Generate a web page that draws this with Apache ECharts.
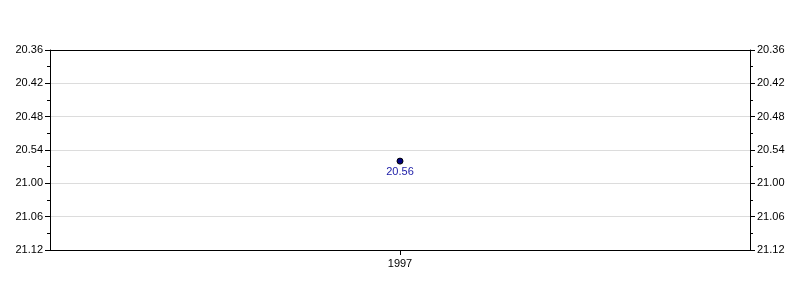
<!DOCTYPE html>
<html><head><meta charset="utf-8">
<script src="https://cdn.jsdelivr.net/npm/echarts@6/dist/echarts.min.js"></script>
<style>html,body{margin:0;padding:0;background:#fff}#c{width:800px;height:300px}</style>
</head><body><div id="c"></div>
<script>
var years = ['1997'];
var times = ['20.56']; // minutes.seconds
var yMinLabel = '20.36';
var yMaxLabel = '21.12';
var yStepSeconds = 6;

function toSec(s){ var p = s.split('.'); return parseInt(p[0],10)*60 + parseInt(p[1],10); }
function fmt(v){ var m = Math.floor(v/60), s = Math.round(v - m*60); return m + '.' + (s<10?'0':'') + s; }

var values = times.map(toSec);
var font = 'Liberation Sans, Arial, sans-serif';

function yAxis(pos){
  return {
    type:'value', position:pos, inverse:true,
    min:toSec(yMinLabel), max:toSec(yMaxLabel), interval:yStepSeconds,
    axisLine:{show:true, lineStyle:{color:'#000', width:1}},
    axisTick:{show:true, length:5, lineStyle:{color:'#000'}},
    minorTick:{show:true, splitNumber:2, length:3, lineStyle:{color:'#000'}},
    splitLine:{show: pos==='left', showMinLine:false, showMaxLine:false, lineStyle:{color:'#dcdcdc', width:1}},
    axisLabel:{color:'#000', fontSize:11, fontFamily:font, margin:7, formatter:fmt}
  };
}

var chart = echarts.init(document.getElementById('c'), null, {renderer:'canvas'});
chart.setOption({
  animation:false,
  backgroundColor:'#fff',
  grid:{left:50, right:50, top:50, bottom:50, show:false},
  xAxis:[{
    type:'category', data:years, boundaryGap:true, position:'bottom',
    axisLine:{show:true, lineStyle:{color:'#000'}},
    axisTick:{show:true, alignWithLabel:true, length:5, lineStyle:{color:'#000'}},
    axisLabel:{color:'#000', fontSize:11, fontFamily:font, margin:8},
    splitLine:{show:false}
  },{
    type:'category', data:years, boundaryGap:true, position:'top',
    axisLine:{show:true, lineStyle:{color:'#000'}},
    axisTick:{show:false}, axisLabel:{show:false}, splitLine:{show:false}
  }],
  yAxis:[yAxis('left'), yAxis('right')],
  series:[{
    type:'line', data:values, xAxisIndex:0, yAxisIndex:0,
    symbol:'circle', symbolSize:6,
    itemStyle:{color:'#000080', borderColor:'#000', borderWidth:1},
    lineStyle:{color:'#000080'},
    label:{show:true, position:'bottom', distance:2, color:'#1a1aa6', fontSize:11, fontFamily:font, formatter:function(p){return times[p.dataIndex];}}
  }]
});
</script></body></html>
